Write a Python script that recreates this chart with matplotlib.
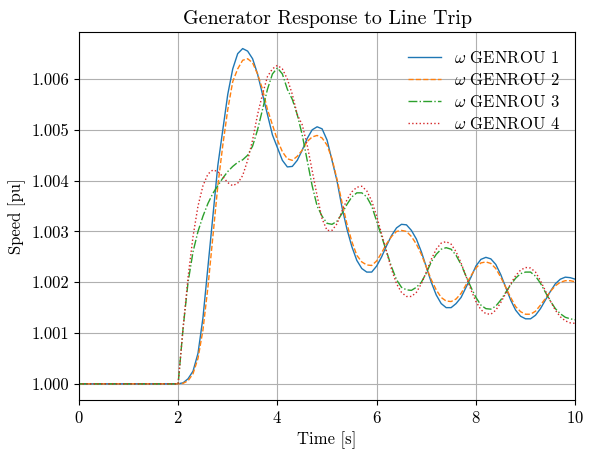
import matplotlib
matplotlib.use("Agg")
import matplotlib.pyplot as plt
import numpy as np
from matplotlib.ticker import FormatStrFormatter

plt.rcParams['font.family'] = 'serif'
plt.rcParams['font.serif'] = ['cmr10']
plt.rcParams['font.size'] = 12
plt.rcParams['mathtext.fontset'] = 'cm'
plt.rcParams['axes.formatter.use_mathtext'] = True
plt.rcParams['axes.unicode_minus'] = False

# time axis: flat until the trip at t = 2 s, then 0.1 s steps
time = [0.0] + [round(2.0 + 0.1 * i, 1) for i in range(81)]

genrou1 = [1.0,
    1.0, 1.00002, 1.0001, 1.00025, 1.0006, 1.0013, 1.0023, 1.0033, 1.0043, 1.0050,
    1.0057, 1.0062, 1.0065, 1.0066, 1.00655, 1.0064, 1.0061, 1.0057, 1.0053, 1.0049,
    1.00465, 1.0044, 1.00427, 1.00428, 1.0044, 1.0046, 1.00483, 1.005, 1.00506, 1.00502,
    1.0048, 1.0044, 1.0040, 1.00348, 1.00305, 1.0027, 1.00243, 1.00227, 1.0022, 1.0022,
    1.00232, 1.0025, 1.00272, 1.00292, 1.00307, 1.00314, 1.00313, 1.00302, 1.00285, 1.0026,
    1.0023, 1.002, 1.00175, 1.00158, 1.0015, 1.0015, 1.00158, 1.0017, 1.0019, 1.0021,
    1.00232, 1.00245, 1.00249, 1.00246, 1.00235, 1.00215, 1.0019, 1.00165, 1.00145, 1.00133,
    1.00128, 1.00128, 1.00135, 1.00148, 1.00165, 1.00182, 1.00197, 1.00206, 1.0021, 1.00209,
    1.00206]

genrou2 = [1.0,
    1.0, 1.00001, 1.00006, 1.0002, 1.0005, 1.00106, 1.0019, 1.0029, 1.0039, 1.0047,
    1.0054, 1.00595, 1.0062, 1.00637, 1.0064, 1.00632, 1.0061, 1.0058, 1.0054, 1.0051,
    1.0048, 1.00457, 1.00443, 1.0044, 1.00448, 1.0046, 1.00477, 1.00486, 1.00489, 1.00484,
    1.0047, 1.00443, 1.00403, 1.00358, 1.00315, 1.0028, 1.00253, 1.0024, 1.00234, 1.00233,
    1.00242, 1.00258, 1.00276, 1.0029, 1.003, 1.00302, 1.003, 1.0029, 1.00275, 1.00255,
    1.0023, 1.00205, 1.00185, 1.0017, 1.00163, 1.00162, 1.00167, 1.00178, 1.00195, 1.00213,
    1.00228, 1.00238, 1.0024, 1.00237, 1.00227, 1.0021, 1.0019, 1.0017, 1.00152, 1.00142,
    1.00137, 1.00137, 1.00143, 1.00155, 1.00168, 1.00182, 1.00193, 1.002, 1.00203, 1.00203,
    1.00201]

genrou3 = [1.0,
    1.0, 1.0011, 1.0020, 1.0026, 1.0030, 1.0033, 1.00355, 1.00375, 1.0039, 1.00405,
    1.00418, 1.00428, 1.00436, 1.00441, 1.0045, 1.00468, 1.005, 1.0054, 1.0058, 1.0061,
    1.00622, 1.0061, 1.0058, 1.0056, 1.0053, 1.0049, 1.0044, 1.0039, 1.0035, 1.0033,
    1.00316, 1.00314, 1.0032, 1.00335, 1.00353, 1.00368, 1.00376, 1.00376, 1.00368, 1.0035,
    1.0032, 1.0029, 1.0026, 1.0023, 1.00205, 1.0019, 1.00185, 1.00184, 1.0019, 1.002,
    1.00218, 1.0024, 1.00255, 1.00265, 1.00268, 1.00265, 1.00253, 1.00235, 1.00212, 1.0019,
    1.0017, 1.00155, 1.00148, 1.00147, 1.00153, 1.00165, 1.0018, 1.00195, 1.00208, 1.00217,
    1.0022, 1.0022, 1.00212, 1.00198, 1.0018, 1.00163, 1.00148, 1.00138, 1.00131, 1.00128,
    1.00126]

genrou4 = [1.0,
    1.0, 1.0011, 1.0021, 1.0029, 1.0035, 1.0039, 1.00413, 1.00421, 1.00418, 1.00408,
    1.00396, 1.0039, 1.00395, 1.0041, 1.0044, 1.0048, 1.0053, 1.0057, 1.00605, 1.0062,
    1.00627, 1.0062, 1.006, 1.0057, 1.0053, 1.0051, 1.0047, 1.0042, 1.0037, 1.00325,
    1.00302, 1.00302, 1.00315, 1.0034, 1.00362, 1.00378, 1.00387, 1.00389, 1.0038, 1.0036,
    1.0033, 1.00295, 1.0026, 1.00225, 1.00197, 1.0018, 1.00172, 1.00172, 1.0018, 1.00197,
    1.0022, 1.00245, 1.00265, 1.00277, 1.0028, 1.00275, 1.0026, 1.00238, 1.00212, 1.00185,
    1.00162, 1.00146, 1.00138, 1.00137, 1.00145, 1.0016, 1.00178, 1.00197, 1.00213, 1.00224,
    1.00229, 1.00228, 1.0022, 1.00203, 1.00183, 1.00163, 1.00145, 1.00132, 1.00124, 1.0012,
    1.00119]

labels = [r'$\omega$ GENROU 1', r'$\omega$ GENROU 2',
          r'$\omega$ GENROU 3', r'$\omega$ GENROU 4']
styles = ['-', '--', '-.', ':']

fig, ax = plt.subplots(figsize=(5.93, 4.58), dpi=100)
fig.subplots_adjust(left=0.133, right=0.970, top=0.930, bottom=0.127)

for series, lab, ls in zip([genrou1, genrou2, genrou3, genrou4], labels, styles):
    ax.plot(time, series, ls, lw=1.0, label=lab)

ax.set_xlim(0, 10)
ax.set_ylim(0.999685, 1.006925)
ax.set_xticks([0, 2, 4, 6, 8, 10])
ax.set_yticks(np.arange(1.000, 1.0065, 0.001))
ax.yaxis.set_major_formatter(FormatStrFormatter('%.3f'))
ax.grid(True)
ax.set_xlabel('Time [s]')
ax.set_ylabel('Speed [pu]')
ax.set_title('Generator Response to Line Trip')
ax.legend(loc='upper right', frameon=False, labelspacing=0.35,
          bbox_to_anchor=(1.0, 0.992))

fig.savefig('out.png', dpi=100)
